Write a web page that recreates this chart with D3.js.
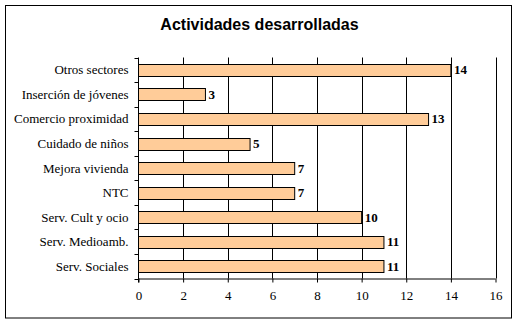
<!DOCTYPE html>
<html><head><meta charset="utf-8">
<script src="https://cdn.jsdelivr.net/npm/d3@7"></script>
<style>body{margin:0;background:#fff;} svg{display:block;} .serif{font-family:"Liberation Serif","Times New Roman","DejaVu Serif",serif;}</style>
</head><body>
<script>
const categories = ["Otros sectores","Inserción de jóvenes","Comercio proximidad","Cuidado de niños","Mejora vivienda","NTC","Serv. Cult y ocio","Serv. Medioamb.","Serv. Sociales"];
const values = [14,3,13,5,7,7,10,11,11];
const xTicks = [0,2,4,6,8,10,12,14,16];
const title = "Actividades desarrolladas";

(function(){
const W=518,H=324;
const svg=d3.select("body").append("svg").attr("width",W).attr("height",H);
svg.append("rect").attr("x",5.5).attr("y",5.5).attr("width",506).attr("height",312.5)
  .attr("fill","#fff").attr("stroke","#000").attr("stroke-width",1);
svg.append("text").attr("x",259.5).attr("y",29.5).attr("text-anchor","middle")
  .style("font-family","'Liberation Sans', Arial, sans-serif").attr("font-weight","bold")
  .attr("font-size",16).text(title);

const pl=138.5,pr=495.5,pt=57.5,pb=278.5;
const x=d3.scaleLinear().domain([0,16]).range([pl,pr]);
const y=d3.scaleBand().domain(categories).range([pt,pb]).paddingInner(0.52).paddingOuter(0.26);

svg.append("g").selectAll("line").data(xTicks.slice(1)).join("line")
  .attr("x1",d=>Math.round(x(d))+0.5).attr("x2",d=>Math.round(x(d))+0.5)
  .attr("y1",pt).attr("y2",pb).attr("stroke","#000").attr("stroke-width",1);

svg.append("g").selectAll("rect").data(values).join("rect")
  .attr("x",pl).attr("y",(d,i)=>Math.round(y(categories[i]))+0.5)
  .attr("width",d=>x(d)-pl).attr("height",Math.round(y.bandwidth()))
  .attr("fill","#FFCC99").attr("stroke","#000").attr("stroke-width",1);

svg.append("g").selectAll("text").data(values).join("text").attr("class","serif")
  .attr("x",d=>x(d)+3).attr("y",(d,i)=>y(categories[i])+y.bandwidth()/2+4.5)
  .attr("font-weight","bold")
  .attr("font-size",13).text(d=>d);

const xAxis=d3.axisBottom(x).tickValues(xTicks).tickSize(4).tickPadding(8).tickFormat(d3.format("d"));
const gx=svg.append("g").attr("transform",`translate(0,${pb})`).call(xAxis);
gx.attr("font-family",null);
gx.selectAll("text").attr("class","serif").attr("font-size",13).attr("fill","#000");
gx.select(".domain").attr("stroke","#000").attr("d",`M${pl},0.5H${pr}`);

const yb=d3.scaleLinear().domain([0,categories.length]).range([pt,pb]);
const gy=svg.append("g");
gy.append("line").attr("x1",pl).attr("x2",pl).attr("y1",pt).attr("y2",pb+4).attr("stroke","#000");
gy.selectAll("line.t").data(d3.range(categories.length+1)).join("line").attr("class","t")
  .attr("x1",pl-4).attr("x2",pl).attr("y1",d=>Math.round(yb(d))+0.5).attr("y2",d=>Math.round(yb(d))+0.5).attr("stroke","#000");
gy.selectAll("text").data(categories).join("text").attr("class","serif")
  .attr("x",pl-10).attr("y",d=>y(d)+y.bandwidth()/2+4.5).attr("text-anchor","end")
  .attr("font-size",13).text(d=>d);
})();
</script>
</body></html>
